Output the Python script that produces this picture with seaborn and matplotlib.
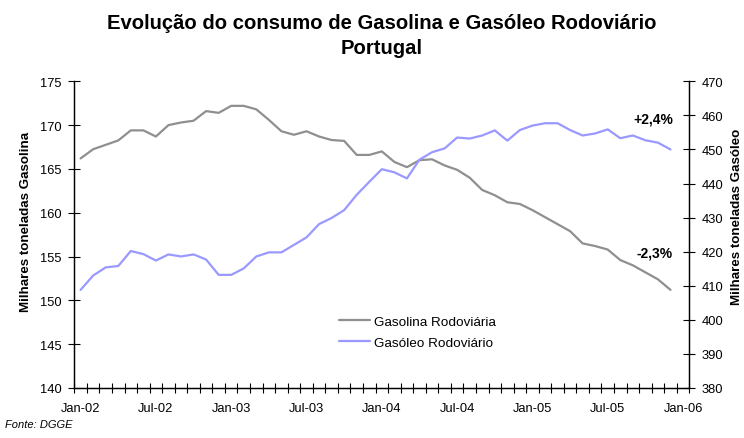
import numpy as np
import pandas as pd
import matplotlib
matplotlib.use("Agg")
import matplotlib.pyplot as plt
import seaborn as sns

# Monthly road fuel consumption, Jan-2002 .. Dec-2005 (thousand tonnes)
months = pd.date_range("2002-01-01", "2005-12-01", freq="MS")
gasolina = [166.2, 167.25, 167.75, 168.25, 169.4, 169.4, 168.7, 170.0, 170.3, 170.5,
            171.6, 171.4, 172.2, 172.2, 171.8, 170.6, 169.3, 168.9, 169.3, 168.7,
            168.3, 168.2, 166.6, 166.6, 167.0, 165.8, 165.2, 166.0, 166.1, 165.4,
            164.9, 164.0, 162.6, 162.0, 161.2, 161.0, 160.3, 159.5, 158.7, 157.9,
            156.5, 156.2, 155.8, 154.6, 154.0, 153.2, 152.4, 151.2]
gasoleo = [408.8, 413.0, 415.4, 415.8, 420.2, 419.3, 417.4, 419.2, 418.6, 419.2,
           417.7, 413.2, 413.2, 415.1, 418.6, 419.8, 419.8, 422.0, 424.2, 428.1,
           429.9, 432.2, 436.7, 440.5, 444.2, 443.3, 441.5, 447.0, 449.2, 450.3,
           453.5, 453.2, 454.1, 455.6, 452.6, 455.7, 457.0, 457.7, 457.7, 455.7,
           454.1, 454.7, 455.9, 453.3, 454.1, 452.7, 452.0, 450.0]
x_labels = ["Jan-02", "Jul-02", "Jan-03", "Jul-03", "Jan-04",
            "Jul-04", "Jan-05", "Jul-05", "Jan-06"]
change_gasoleo = "+2,4%"
change_gasolina = "-2,3%"

df = pd.DataFrame({"idx": np.arange(len(months)), "Gasolina": gasolina, "Gasoleo": gasoleo})

sns.set_theme(style="white")
plt.rcParams["font.family"] = ["Liberation Sans", "DejaVu Sans"]
for key in ("text.color", "axes.labelcolor", "xtick.color", "ytick.color", "axes.edgecolor"):
    plt.rcParams[key] = "#000000"

fig = plt.figure(figsize=(7.44, 4.39), dpi=100)
ax = fig.add_axes([0.0999, 0.1139, 0.8266, 0.6986])
ax2 = ax.twinx()

sns.lineplot(data=df, x="idx", y="Gasolina", ax=ax, color="#8f8f8f", lw=1.6,
             label="Gasolina Rodoviária", legend=False)
sns.lineplot(data=df, x="idx", y="Gasoleo", ax=ax2, color="#9999ff", lw=1.6,
             label="Gasóleo Rodoviário", legend=False)

ax.set_xlim(-0.5, 48.5)
ax.set_ylim(140, 175)
ax2.set_ylim(380, 470)
ax.set_yticks(np.arange(140, 176, 5))
ax2.set_yticks(np.arange(380, 471, 10))

ax.set_xticks(np.arange(0, 49, 6))
ax.set_xticklabels(x_labels)
ax.set_xticks(np.arange(-0.5, 49, 1), minor=True)
ax.tick_params(axis="x", which="major", bottom=True, length=0, pad=10, labelsize=9.3)
ax.tick_params(axis="x", which="minor", bottom=True, direction="inout", length=7, width=0.8)
ax.tick_params(axis="y", direction="inout", length=8, width=0.8, labelsize=9.3,
               left=True, pad=5)
ax2.tick_params(axis="y", direction="inout", length=8, width=0.8, labelsize=9.3,
                right=True, pad=5)

for a in (ax, ax2):
    a.spines["top"].set_visible(False)
    for s in ("left", "right", "bottom"):
        a.spines[s].set_color("#000000")
        a.spines[s].set_linewidth(0.9)
    a.grid(False)

ax.set_xlabel("")
ax.set_ylabel("Milhares toneladas Gasolina", fontsize=9.6, fontweight="bold", labelpad=6)
ax2.set_ylabel("Milhares toneladas Gasóleo", fontsize=9.6, fontweight="bold", labelpad=5)
ax.yaxis.label.set_y(0.545)
ax2.yaxis.label.set_y(0.561)

fig.text(0.5135, 0.918, "Evolução do consumo de Gasolina e Gasóleo Rodoviário\nPortugal",
         ha="center", va="center", fontsize=14.6, fontweight="bold", linespacing=1.42)

ax.text(0.941, 0.880, change_gasoleo, transform=ax.transAxes, fontsize=10,
        fontweight="bold", ha="center", va="center")
ax.text(0.943, 0.443, change_gasolina, transform=ax.transAxes, fontsize=10,
        fontweight="bold", ha="center", va="center")

h1, l1 = ax.get_legend_handles_labels()
h2, l2 = ax2.get_legend_handles_labels()
ax2.legend(h1 + h2, l1 + l2, loc="upper left", bbox_to_anchor=(0.447, 0.294),
           bbox_transform=fig.transFigure, frameon=False, fontsize=9.7,
           handlelength=2.25, handletextpad=0.3, labelspacing=0.6, borderpad=0)

fig.text(0.007, 0.032, "Fonte: DGGE", fontsize=8, fontstyle="italic", ha="left", va="center")

fig.savefig("out.png", dpi=100)
